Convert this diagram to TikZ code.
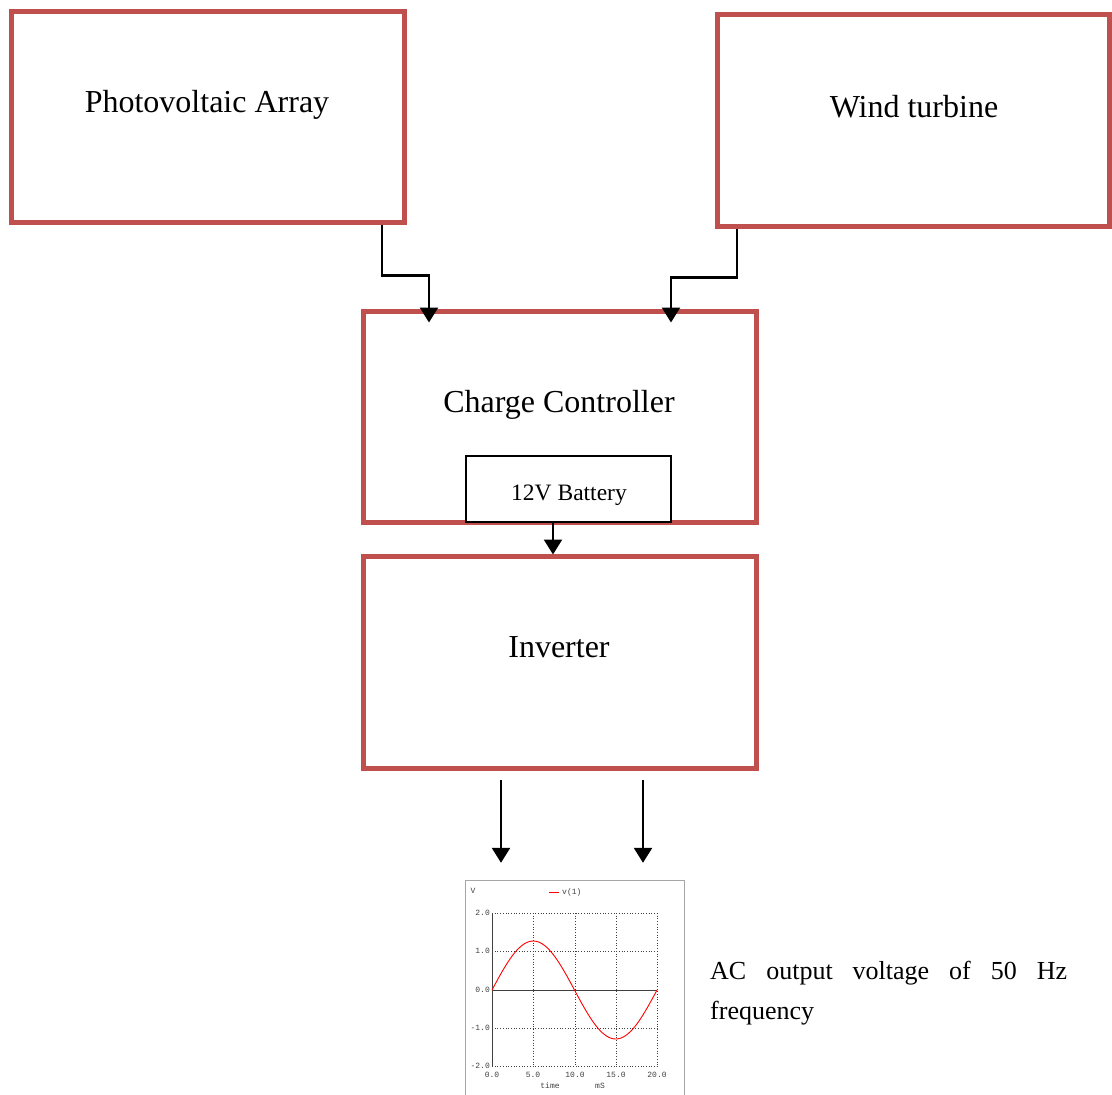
\documentclass[tikz,border=0pt]{standalone}
\usepackage{fontspec}
\setmainfont{Liberation Serif}
\newfontfamily\plotfont{Liberation Mono}
\usetikzlibrary{arrows.meta,calc}
\definecolor{boxred}{HTML}{C0504D}
\definecolor{plotgray}{HTML}{404040}
\begin{document}
\begin{tikzpicture}[x=1pt,y=-1pt,
  redbox/.style={draw=boxred,line width=5pt,rectangle,inner sep=0pt},
  biglabel/.style={font=\fontsize{32}{38}\selectfont,inner sep=0pt},
  batbox/.style={draw=black,line width=1.8pt,fill=white,rectangle,inner sep=0pt},
  arr/.style={draw=black,line width=2.5pt,-{Triangle[width=18pt,length=15pt]}},
  ticklab/.style={font=\plotfont\fontsize{8}{9}\selectfont,text=plotgray,inner sep=0pt},
  gridl/.style={draw=plotgray,line width=0.7pt,dotted},
]
\useasboundingbox (0,0) rectangle (1112,1095);
% boxes
\node[redbox,minimum width=393pt,minimum height=211pt] (pv) at (207.5,116.5) {};
\node[biglabel] (pvt) at (207,105) {Photovoltaic Array};
\node[redbox,minimum width=392pt,minimum height=212pt] (wind) at (913,120) {};
\node[biglabel] (windt) at (914,107) {Wind turbine};
\node[redbox,minimum width=393pt,minimum height=211pt] (cc) at (559.5,416.5) {};
\node[biglabel] (cct) at (559,405) {Charge Controller};
\node[redbox,minimum width=393pt,minimum height=212pt] (inv) at (559.5,662) {};
\node[biglabel] (invt) at (559,647) {Inverter};
\node[batbox,minimum width=205pt,minimum height=66pt] (bat) at (568.5,489) {};
\node[inner sep=0pt,font=\fontsize{23.5}{28}\selectfont] (batt) at (569,495) {12V Battery};
% connectors
\draw[arr] ([xshift=174.5pt]pv.south) -- ++(0,51) -| ([xshift=-130.5pt,yshift=-14pt]cc.north);
\draw[arr] ([xshift=-176pt]wind.south) -- ++(0,49) -| ([xshift=111.5pt,yshift=-14pt]cc.north);
\draw[arr] ([xshift=-15.5pt]bat.south) -- ([xshift=-15.5pt,yshift=-1pt]bat.south |- inv.north);
% plot frame
\node[inner sep=0pt,minimum width=218pt,minimum height=214pt] (plot) at (575,988) {};
\draw[draw=gray!70,line width=1pt] (plot.south west) -- (plot.north west) -- (plot.north east) -- (plot.south east);
\draw[arr] ([xshift=-58.5pt,yshift=-9pt]inv.south) -- ([xshift=-58.5pt,yshift=18pt]inv.south |- plot.north);
\draw[arr] ([xshift=83.5pt,yshift=-9pt]inv.south) -- ([xshift=83.5pt,yshift=18pt]inv.south |- plot.north);
% grid
\foreach \gx in {533,575,616,657} \draw[gridl] (\gx,913) -- (\gx,1066);
\foreach \gy in {913,951,1028,1066} \draw[gridl] (492,\gy) -- (657,\gy);
\draw[draw=plotgray,line width=1pt] (492,913) -- (492,1066);
\draw[draw=plotgray,line width=1pt] (492,990) -- (657,990);
\draw[red,line width=0.9pt] plot[domain=0:20,samples=80,smooth] ({492+\x*8.25},{990-49*sin(\x*18)});
% tick labels
\foreach \yy/\lab in {913/2.0,951/1.0,990/0.0,1028/-1.0,1066/-2.0}
  \node[ticklab,anchor=east] (yl\yy) at (490,\yy) {\lab};
\foreach \xx/\lab in {492/0.0,533/5.0,575/10.0,616/15.0,657/20.0}
  \node[ticklab] (xl\xx) at (\xx,1075) {\lab};
\node[ticklab] (tlab) at (550,1086) {time};
\node[ticklab] (mslab) at (600,1086) {mS};
\node[ticklab] (vlab) at (473,891) {V};
\draw[red,line width=0.9pt] (549,892) -- (559,892);
\node[ticklab,anchor=west] (leg) at (562,892) {v(1)};
% caption
\node[anchor=north west,inner sep=0pt,text width=357pt,align=justify,
  font={\fontsize{26}{40}\selectfont\hyphenpenalty=10000\tolerance=10000}] (cap) at (710,961)
  {AC output voltage of 50 Hz \mbox{frequency}};
\end{tikzpicture}
\end{document}
